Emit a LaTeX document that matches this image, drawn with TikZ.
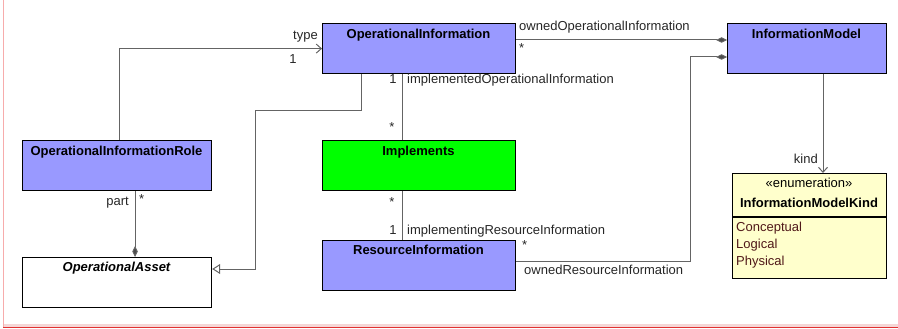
\documentclass[tikz,border=0pt]{standalone}
\usepackage{fontspec}
\setmainfont{Liberation Sans}
\usetikzlibrary{arrows.meta}
\definecolor{clsblue}{RGB}{153,153,255}
\definecolor{clsgreen}{RGB}{0,255,0}
\definecolor{clsyellow}{RGB}{255,255,204}
\definecolor{linegray}{RGB}{100,100,100}
\definecolor{itemred}{RGB}{80,25,25}
\definecolor{framepink}{RGB}{245,215,215}
\definecolor{framered}{RGB}{225,50,50}
\begin{document}
\begin{tikzpicture}[x=1pt,y=-1pt,
  font=\fontsize{13pt}{15pt}\selectfont,
  cls/.style={draw=black, line width=1.2pt, anchor=north west, inner sep=0pt, minimum width=#1, minimum height=50pt},
  title/.style={font=\fontsize{13pt}{15pt}\selectfont\bfseries, inner sep=0pt, text height=9.5pt, text depth=2.5pt},
  lbl/.style={inner sep=0pt, text height=9.5pt, text depth=2.5pt, text=black!85},
  assoc/.style={draw=linegray, line width=1pt},
  comp/.style={assoc, -{Diamond[length=11pt,width=5.5pt,fill=black!70]}},
  nav/.style={assoc, -{Straight Barb[length=5pt,width=9pt]}},
  gen/.style={assoc, -{Triangle[open,length=8pt,width=10pt,fill=white]}}
]
\useasboundingbox (0,0) rectangle (898,329);
% frame
\fill[framepink] (3,324) rectangle (898,327);
\draw[framered, line width=1pt] (3,327.5) -- (898,327.5);
\draw[framepink!80!red, line width=0.8pt] (3,0) -- (3,327);

% classes
\node[cls=193pt, fill=clsblue] (oi) at (322,23) {};
\node[cls=159pt, fill=clsblue] (im) at (727,23) {};
\node[cls=189pt, fill=clsblue] (oir) at (22,140) {};
\node[cls=193pt, fill=clsgreen] (impl) at (322,140) {};
\node[cls=189pt, fill=white] (oa) at (22,257) {};
\node[cls=193pt, fill=clsblue] (ri) at (322,240) {};
\node[cls=154pt, fill=clsyellow, minimum height=105pt] (enum) at (732,173) {};
\draw[black, line width=1.2pt] (enum.west |- 0,217) coordinate (divl) -- (enum.east |- 0,217) coordinate (divr);

% titles
\node[title] (oit) at (418.5,35) {OperationalInformation};
\node[title] (imt) at (806.5,35) {InformationModel};
\node[title] (oirt) at (116.5,152) {OperationalInformationRole};
\node[title] (implt) at (418.5,152) {Implements};
\node[title, font=\fontsize{13pt}{15pt}\selectfont\bfseries\itshape] (oat) at (116.5,268) {OperationalAsset};
\node[title] (rit) at (418.5,251) {ResourceInformation};
\node[lbl, text=black] (st) at (809,184) {«enumeration»};
\node[title] (enumt) at (809,204) {InformationModelKind};
\node[lbl, anchor=west, text=itemred] (i1) at (736,228) {Conceptual};
\node[lbl, anchor=west, text=itemred] (i2) at (736,245) {Logical};
\node[lbl, anchor=west, text=itemred] (i3) at (736,262) {Physical};

% type association
\draw[nav] ([xshift=2.5pt]oir.north) |- (oi.west);
\node[lbl, anchor=east] (ltype) at (318,36) {type};
\node[lbl] (ltype1) at (293,60) {1};

% generalization OperationalInformation -> OperationalAsset
\coordinate (g1) at (361,111);
\coordinate (g2) at (255,111);
\coordinate (g3) at (255,269);
\draw[gen] (oi.south -| g1) -- (g1) -- (g2) -- (g3) -- (oa.east |- g3);

% implements links
\coordinate (ix) at (402,0);
\draw[assoc] (oi.south -| ix) -- (impl.north -| ix);
\draw[assoc] (impl.south -| ix) -- (ri.north -| ix);
\node[lbl] (l1a) at (393,80) {1};
\node[lbl, anchor=west] (l1b) at (407,80) {implementedOperationalInformation};
\node[lbl] (l1c) at (392,128) {*};
\node[lbl] (l2a) at (392,203) {*};
\node[lbl] (l2b) at (393,231) {1};
\node[lbl, anchor=west] (l2c) at (407,231) {implementingResourceInformation};

% owned operational information
\coordinate (oo) at (0,40);
\draw[comp] (oi.east |- oo) -- (im.west |- oo);
\node[lbl, anchor=west] (lo1) at (519,27) {ownedOperationalInformation};
\node[lbl, anchor=west] (lo2) at (519,49) {*};

% owned resource information
\coordinate (r1) at (690,261);
\coordinate (r2) at (690,57);
\draw[comp] (ri.east |- r1) -- (r1) -- (r2) -- (im.west |- r2);
\node[lbl, anchor=west] (lr1) at (522,246) {*};
\node[lbl, anchor=west] (lr2) at (524,271) {ownedResourceInformation};

% kind
\coordinate (kx) at (823,0);
\draw[nav] (im.south -| kx) -- (enum.north -| kx);
\node[lbl, anchor=east] (lkind) at (818,160) {kind};

% part
\coordinate (px) at (135,0);
\draw[comp] (oir.south -| px) -- (oa.north -| px);
\node[lbl, anchor=east] (lpart) at (129,202) {part};
\node[lbl, anchor=west] (lpart2) at (139,200) {*};
\end{tikzpicture}
\end{document}
